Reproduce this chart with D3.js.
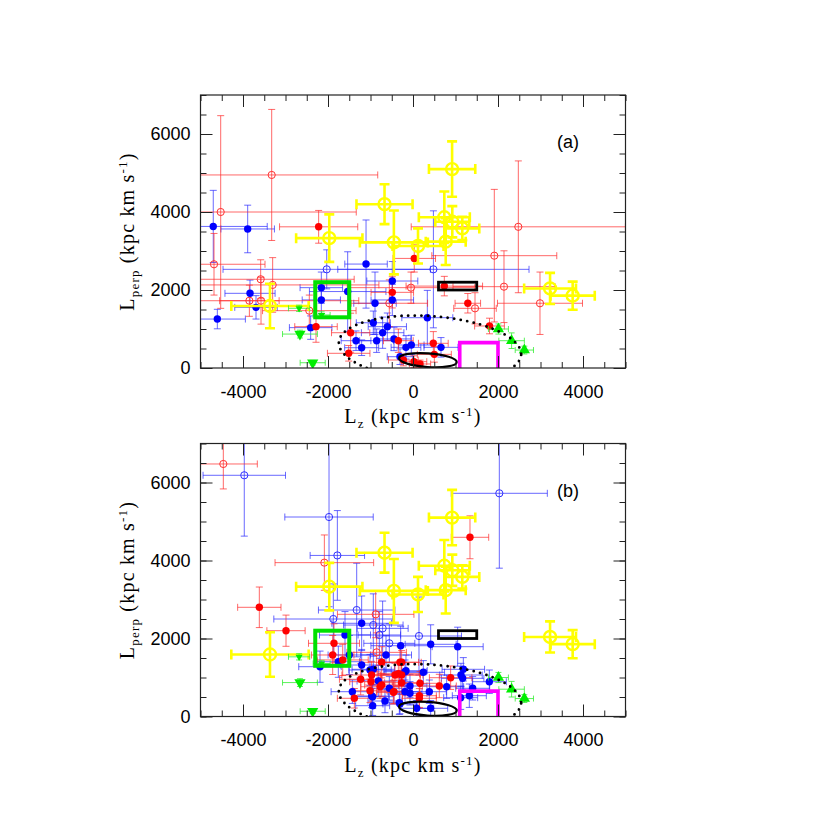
<!DOCTYPE html>
<html>
<head>
<meta charset="utf-8">
<script src="https://cdn.jsdelivr.net/npm/d3@7"></script>
<style>
body { margin: 0; background: #fff; }
.lab text, .lab { font-family: "Liberation Sans", Arial, sans-serif; font-size: 18px; fill: #000; }
.ttl { font-family: "Liberation Serif", "Times New Roman", serif; fill: #000; }
</style>
</head>
<body>
<svg id="svg1" width="817" height="817"></svg>
<script>
// each point: [Lz, Lperp, err_Lz, err_Lperp]
var yellowPts = [
  [920, 5100, 545, 710], [-670, 4200, 660, 510], [-1970, 3330, 780, 610],
  [-450, 3220, 800, 820], [118, 3130, 600, 450], [770, 3240, 470, 600],
  [737, 3865, 600, 660], [925, 3750, 400, 400], [1160, 3580, 400, 300],
  [-3365, 1590, 910, 570], [3225, 2040, 610, 400], [3757, 1855, 520, 360]
];
var greenDown = [[-2660, 870, 410, 100], [-2360, 135, 295, 60]];
var greenDownSmall = [[-2680, 1530, 250, 80], [-2150, 1360, 200, 80]];
var greenUp = [[2010, 1000, 235, 130], [2320, 700, 300, 200], [2620, 460, 215, 100]];

// panel (a)
var aBlueFilled = [
  [-4700, 3630, 1270, 925], [-3890, 3565, 630, 610], [-4604, 1255, 660, 250],
  [-3835, 1915, 590, 340], [-3694, 1555, 500, 300], [-2157, 2060, 500, 400],
  [-2157, 1745, 450, 350], [-1537, 1960, 900, 1020], [-1105, 2665, 500, 1130],
  [-487, 2230, 600, 500], [-487, 1745, 500, 400], [-894, 1660, 500, 800],
  [-2408, 1035, 500, 300], [337, 1290, 600, 700], [-934, 1160, 400, 300],
  [-604, 1060, 450, 350], [-714, 905, 500, 400], [-855, 700, 400, 300],
  [-1341, 700, 350, 250], [-1208, 520, 400, 200], [-447, 745, 400, 300],
  [-165, 530, 350, 300], [-40, 590, 300, 250], [659, 530, 400, 250],
  [-306, 290, 300, 200]
];
var aBlueOpen = [[-2030, 2530, 2440, 500], [480, 2530, 2250, 1500]];
var aRedFilled = [
  [-2220, 3620, 920, 420], [30, 2810, 500, 350], [737, 2100, 900, 250],
  [1290, 1660, 300, 250], [1800, 1077, 350, 200], [-487, 1940, 500, 400],
  [-2282, 1060, 500, 400], [-1467, 905, 450, 500], [-1513, 377, 500, 200],
  [-345, 700, 350, 300], [478, 633, 350, 300], [502, 350, 400, 200],
  [-227, 205, 350, 150], [24, 162, 300, 150], [165, 103, 250, 100]
];
var aRedOpen = [
  [-4525, 4000, 3190, 2470], [-3325, 4950, 2495, 1680], [-4682, 2660, 1200, 790],
  [-3584, 2275, 2200, 500], [-3850, 1725, 700, 400], [-3576, 1725, 2300, 600],
  [-3302, 2130, 2500, 700], [-2440, 1470, 1100, 400], [-47, 2060, 1500, 400],
  [-557, 1660, 900, 600], [1459, 1530, 500, 400], [1913, 2880, 1470, 1700],
  [2478, 3620, 2520, 1690], [2141, 2085, 1200, 920], [2988, 1660, 1000, 800]
];

// panel (b)
var bBlueFilled = [
  [-1208, 2390, 700, 700], [-1600, 2090, 600, 600], [-1498, 1577, 500, 500],
  [-1757, 1405, 500, 400], [-2188, 1277, 500, 400], [-1208, 1320, 500, 400],
  [-635, 1577, 600, 500], [-290, 1815, 700, 500], [-1012, 1192, 500, 400],
  [-816, 910, 500, 400], [-1427, 636, 500, 300], [-949, 508, 500, 300],
  [-659, 397, 400, 300], [-949, 277, 400, 250], [-322, 354, 400, 300],
  [416, 1851, 600, 500], [1051, 1790, 600, 500], [1184, 1210, 500, 300],
  [1129, 1064, 500, 300], [1168, 979, 500, 300], [1796, 892, 400, 300],
  [1404, 723, 400, 300], [1325, 533, 400, 300], [1122, 482, 400, 300],
  [792, 764, 400, 300], [384, 636, 400, 300], [243, 1133, 500, 300],
  [-188, 1149, 500, 300], [-188, 636, 400, 300], [-71, 595, 400, 300],
  [86, 210, 400, 200], [416, 210, 400, 200], [-934, 1210, 500, 400],
  [-165, 1175, 500, 400], [-71, 782, 400, 300], [-557, 723, 400, 300],
  [-973, 526, 400, 300], [-306, 320, 400, 250]
];
var bBlueOpen = [
  [-3970, 6185, 970, 1560], [-1976, 5115, 1040, 2300], [-1780, 4130, 640, 1150],
  [2031, 5723, 1130, 1920], [-1325, 2730, 900, 1200], [-1875, 2500, 1400, 900],
  [-934, 2345, 700, 800], [-714, 2260, 600, 700], [-792, 2090, 500, 600],
  [-557, 1877, 600, 500], [141, 2064, 1000, 1000]
];
var bRedFilled = [
  [1341, 4595, 440, 550], [-3616, 2800, 510, 520], [-2988, 2200, 450, 400],
  [-1859, 1877, 600, 500], [-1890, 1577, 500, 500], [-1654, 1450, 600, 400],
  [-306, 1390, 500, 400], [-737, 1390, 500, 400], [-1231, 954, 500, 400],
  [-973, 1064, 700, 350], [-424, 1064, 600, 300], [-345, 1097, 500, 300],
  [-988, 892, 500, 300], [-737, 807, 400, 300], [-463, 620, 400, 300],
  [-1380, 467, 400, 250], [886, 995, 500, 300], [619, 782, 400, 300],
  [165, 851, 500, 300], [149, 533, 400, 300], [149, 467, 400, 250],
  [-267, 1390, 400, 300], [-267, 867, 400, 300], [-447, 636, 400, 300],
  [-776, 764, 450, 300], [-1012, 660, 400, 300], [-267, 1064, 500, 300]
];
var bRedOpen = [
  [-4463, 6475, 800, 640], [-2086, 3945, 1160, 710], [-878, 2620, 900, 600],
  [-855, 1645, 700, 500]
];

// regions: [x0, x1, y0, y1]
var greenBox = [-2300, -1500, 1300, 2200];
var blackBox = [600, 1500, 2000, 2200];
var magentaBox = [1100, 2000, 0, 650];
// ellipses: [cx, cy, rx, ry, angle]
var solidEll = [350, 200, 680, 175, 4];
var dotEll = [400, 500, 2150, 830, 4];

var xMajor = [-4000, -2000, 0, 2000, 4000];
var yMajor = [0, 2000, 4000, 6000];
var xMinor = d3.range(-5000, 5001, 500);
var yMinor = d3.range(0, 7001, 500);

var svg = d3.select("#svg1");
var W = 425, H = 273;
var x = d3.scaleLinear().domain([-5000, 5000]).range([0, W]);
var y = d3.scaleLinear().domain([0, 7000]).range([H, 0]);

function errbars(g, data, color, op, sw, cap) {
  g.append("g")
      .attr("stroke", color)
      .attr("stroke-opacity", op)
      .attr("stroke-width", sw)
      .attr("fill", "none")
    .selectAll("path").data(data).join("path")
      .attr("d", function(d) {
        var cx = x(d[0]), cy = y(d[1]);
        var x0 = x(d[0] - d[2]), x1 = x(d[0] + d[2]);
        var y0 = y(d[1] - d[3]), y1 = y(d[1] + d[3]);
        return "M" + x0 + "," + cy + "H" + x1 +
               "M" + cx + "," + y0 + "V" + y1 +
               "M" + x0 + "," + (cy - cap) + "V" + (cy + cap) +
               "M" + x1 + "," + (cy - cap) + "V" + (cy + cap) +
               "M" + (cx - cap) + "," + y0 + "H" + (cx + cap) +
               "M" + (cx - cap) + "," + y1 + "H" + (cx + cap);
      });
}

function circles(g, data, color, filled, r, sw) {
  g.append("g").selectAll("circle").data(data).join("circle")
      .attr("cx", function(d) { return x(d[0]); })
      .attr("cy", function(d) { return y(d[1]); })
      .attr("r", r)
      .attr("fill", filled ? color : "none")
      .attr("stroke", filled ? "none" : color)
      .attr("stroke-width", sw);
}

function triangles(g, data, size, down) {
  g.append("g").selectAll("path").data(data).join("path")
      .attr("d", d3.symbol(d3.symbolTriangle, size))
      .attr("fill", "#00ee00")
      .attr("transform", function(d) {
        return "translate(" + x(d[0]) + "," + y(d[1]) + ")" + (down ? " rotate(180)" : "");
      });
}

function axisTitle(g, main, sub) {
  g.append("tspan").text(main);
  g.append("tspan").attr("font-size", 13).attr("dy", 5).text(sub);
  g.append("tspan").attr("dy", -5).text(" (kpc km s");
  g.append("tspan").attr("font-size", 13).attr("dy", -7).text("-1");
  g.append("tspan").attr("dy", 7).text(")");
}

function panel(top, label, id, blueOpen, blueFilled, redOpen, redFilled) {
  var g = svg.append("g").attr("transform", "translate(200.5," + top + ")");

  g.append("defs").append("clipPath").attr("id", id)
    .append("rect").attr("width", W).attr("height", H);

  var plot = g.append("g").attr("clip-path", "url(#" + id + ")");

  // error bars, then symbols
  errbars(plot, blueOpen.concat(blueFilled), "#2a2aff", 0.7, 1, 3.5);
  errbars(plot, redOpen.concat(redFilled), "#ff2a2a", 0.7, 1, 3.5);
  circles(plot, blueOpen, "#3030ff", false, 3.6, 1);
  circles(plot, redOpen, "#ff3030", false, 3.6, 1);
  circles(plot, blueFilled, "#0000ff", true, 3.7, 0);
  circles(plot, redFilled, "#ff0000", true, 3.7, 0);

  errbars(plot, yellowPts, "#ffff00", 1, 2.6, 5);
  circles(plot, yellowPts, "#ffff00", false, 6, 2.4);

  errbars(plot, greenDown.concat(greenDownSmall, greenUp), "#33ee33", 0.8, 1, 3);
  triangles(plot, greenDown, 55, true);
  triangles(plot, greenDownSmall, 22, true);
  triangles(plot, greenUp, 55, false);

  // regions
  plot.append("ellipse")
      .attr("cx", x(dotEll[0])).attr("cy", y(dotEll[1]))
      .attr("rx", x(dotEll[0] + dotEll[2]) - x(dotEll[0]))
      .attr("ry", y(0) - y(dotEll[3]))
      .attr("transform", "rotate(" + dotEll[4] + "," + x(dotEll[0]) + "," + y(dotEll[1]) + ")")
      .attr("fill", "none").attr("stroke", "#000")
      .attr("stroke-width", 2.8).attr("stroke-linecap", "round")
      .attr("stroke-dasharray", "0 6.6");

  plot.append("ellipse")
      .attr("cx", x(solidEll[0])).attr("cy", y(solidEll[1]))
      .attr("rx", x(solidEll[0] + solidEll[2]) - x(solidEll[0]))
      .attr("ry", y(0) - y(solidEll[3]))
      .attr("transform", "rotate(" + solidEll[4] + "," + x(solidEll[0]) + "," + y(solidEll[1]) + ")")
      .attr("fill", "none").attr("stroke", "#000").attr("stroke-width", 2.2);

  plot.append("rect")
      .attr("x", x(greenBox[0])).attr("y", y(greenBox[3]))
      .attr("width", x(greenBox[1]) - x(greenBox[0]))
      .attr("height", y(greenBox[2]) - y(greenBox[3]))
      .attr("fill", "none").attr("stroke", "#00e000").attr("stroke-width", 4);

  plot.append("rect")
      .attr("x", x(blackBox[0])).attr("y", y(blackBox[3]))
      .attr("width", x(blackBox[1]) - x(blackBox[0]))
      .attr("height", y(blackBox[2]) - y(blackBox[3]))
      .attr("fill", "none").attr("stroke", "#000").attr("stroke-width", 2.8);

  plot.append("path")
      .attr("d", "M" + x(magentaBox[0]) + "," + y(magentaBox[2]) +
                 "V" + y(magentaBox[3]) + "H" + x(magentaBox[1]) + "V" + y(magentaBox[2]))
      .attr("fill", "none").attr("stroke", "#ff00ff").attr("stroke-width", 3.6);

  // ticks on all four sides, pointing inward
  [[d3.axisBottom(x), xMinor, 6, "translate(0," + H + ")"],
   [d3.axisBottom(x), xMajor, 12, "translate(0," + H + ")"],
   [d3.axisTop(x), xMinor, 6, null],
   [d3.axisTop(x), xMajor, 12, null],
   [d3.axisLeft(y), yMinor, 6, null],
   [d3.axisLeft(y), yMajor, 12, null],
   [d3.axisRight(y), yMinor, 6, "translate(" + W + ",0)"],
   [d3.axisRight(y), yMajor, 12, "translate(" + W + ",0)"]
  ].forEach(function(a) {
    var ax = g.append("g").attr("transform", a[3])
      .call(a[0].tickValues(a[1]).tickSize(-a[2]).tickSizeOuter(0).tickFormat(""));
    ax.select(".domain").remove();
    ax.selectAll("line").attr("stroke", "#222");
  });

  g.append("rect").attr("width", W).attr("height", H)
      .attr("fill", "none").attr("stroke", "#222").attr("stroke-width", 1.2);

  var xl = g.append("g").attr("class", "lab").attr("transform", "translate(0," + H + ")")
      .call(d3.axisBottom(x).tickValues(xMajor).tickSize(0).tickPadding(17)
            .tickFormat(function(d) { return String(d); }));
  xl.select(".domain").remove();
  xl.selectAll("text").attr("font-size", 18).attr("font-family", "Liberation Sans, Arial, sans-serif");

  var yl = g.append("g").attr("class", "lab")
      .call(d3.axisLeft(y).tickValues(yMajor).tickSize(0).tickPadding(10)
            .tickFormat(function(d) { return String(d); }));
  yl.select(".domain").remove();
  yl.selectAll("text").attr("font-size", 18).attr("font-family", "Liberation Sans, Arial, sans-serif");

  g.append("text").attr("class", "lab")
      .attr("x", 367.5).attr("y", 53).attr("text-anchor", "middle")
      .text(label);

  // axis titles
  var tx = g.append("text").attr("class", "ttl")
      .attr("x", W / 2).attr("y", H + 55).attr("text-anchor", "middle")
      .attr("font-size", 20).attr("letter-spacing", 1.2);
  axisTitle(tx, "L", "z");

  var ty = g.append("text").attr("class", "ttl")
      .attr("transform", "translate(-67," + (H / 2) + ") rotate(-90)")
      .attr("text-anchor", "middle")
      .attr("font-size", 20).attr("letter-spacing", 1.2);
  axisTitle(ty, "L", "perp");
}

panel(95, "(a)", "clipA", aBlueOpen, aBlueFilled, aRedOpen, aRedFilled);
panel(443.5, "(b)", "clipB", bBlueOpen, bBlueFilled, bRedOpen, bRedFilled);
</script>
</body>
</html>
